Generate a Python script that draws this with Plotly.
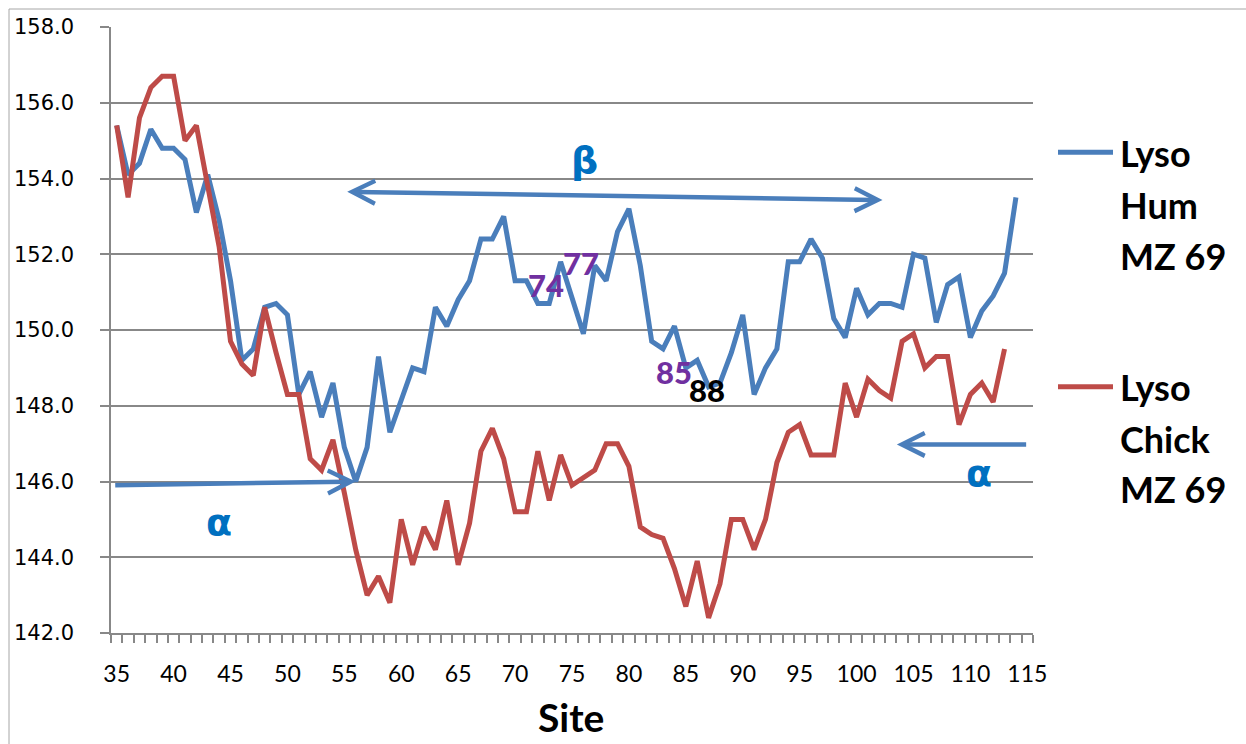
import plotly.graph_objects as go

# ---------------- data ----------------
sites_hum = list(range(35, 115))
lyso_hum = [155.4, 154.1, 154.4, 155.3, 154.8, 154.8, 154.5, 153.1, 154.1, 152.9,
            151.3, 149.2, 149.5, 150.6, 150.7, 150.4, 148.3, 148.9, 147.7, 148.6,
            146.9, 146.0, 146.9, 149.3, 147.3, 148.2, 149.0, 148.9, 150.6, 150.1,
            150.8, 151.3, 152.4, 152.4, 153.0, 151.3, 151.3, 150.7, 150.7, 151.8,
            150.9, 149.9, 151.7, 151.3, 152.6, 153.2, 151.7, 149.7, 149.5, 150.1,
            149.0, 149.2, 148.5, 148.6, 149.4, 150.4, 148.3, 149.0, 149.5, 151.8,
            151.8, 152.4, 151.9, 150.3, 149.8, 151.1, 150.4, 150.7, 150.7, 150.6,
            152.0, 151.9, 150.2, 151.2, 151.4, 149.8, 150.5, 150.9, 151.5, 153.5]

sites_chick = list(range(35, 114))
lyso_chick = [155.4, 153.5, 155.6, 156.4, 156.7, 156.7, 155.0, 155.4, 153.8, 152.2,
              149.7, 149.1, 148.8, 150.6, 149.4, 148.3, 148.3, 146.6, 146.3, 147.1,
              145.7, 144.2, 143.0, 143.5, 142.8, 145.0, 143.8, 144.8, 144.2, 145.5,
              143.8, 144.9, 146.8, 147.4, 146.6, 145.2, 145.2, 146.8, 145.5, 146.7,
              145.9, 146.1, 146.3, 147.0, 147.0, 146.4, 144.8, 144.6, 144.5, 143.7,
              142.7, 143.9, 142.4, 143.3, 145.0, 145.0, 144.2, 145.0, 146.5, 147.3,
              147.5, 146.7, 146.7, 146.7, 148.6, 147.7, 148.7, 148.4, 148.2, 149.7,
              149.9, 149.0, 149.3, 149.3, 147.5, 148.3, 148.6, 148.1, 149.5]

x_tick_labels = [35, 40, 45, 50, 55, 60, 65, 70, 75, 80, 85, 90, 95, 100, 105, 110, 115]
y_ticks = [142, 144, 146, 148, 150, 152, 154, 156, 158]

name_hum = ["Lyso", "Hum", "MZ 69"]
name_chick = ["Lyso", "Chick", "MZ 69"]

# site labels placed on the chart: (text, site, value, colour key)
site_labels = [("74", 72.7, 151.19, "purple"), ("77", 75.77, 151.77, "purple"),
               ("85", 83.95, 148.88, "purple"), ("88", 86.85, 148.42, "black")]

# ---------------- styling ----------------
BLUE = "#4A7EBB"
RED = "#BE4B48"
GREEK = "#0070C0"
PURPLE = "#7030A0"
GRID = "#888888"
FONT = "Lato, 'DejaVu Sans', sans-serif"

fig = go.Figure()
fig.add_trace(go.Scatter(x=sites_hum, y=lyso_hum, mode="lines",
                         line=dict(color=BLUE, width=5), showlegend=False))
fig.add_trace(go.Scatter(x=sites_chick, y=lyso_chick, mode="lines",
                         line=dict(color=RED, width=5), showlegend=False))

L, R, T, B = 111, 213, 27, 111
W, H = 1246, 744
PW, PH = W - L - R, H - T - B


def px(xp):
    return (xp - L) / PW


def py(yp):
    return (H - B - yp) / PH


minor_vals = [v - 0.5 for v in range(35, 117)]

fig.update_layout(
    width=W, height=H,
    margin=dict(l=L, r=R, t=T, b=B, autoexpand=False),
    paper_bgcolor="white", plot_bgcolor="white",
    xaxis=dict(range=[34.5, 115.5], tickmode="array", tickvals=x_tick_labels,
               ticktext=[str(v) for v in x_tick_labels], ticks="",
               showgrid=False, zeroline=False, showline=True,
               linecolor=GRID, linewidth=1.5,
               tickfont=dict(family=FONT, size=23, color="black"),
               ticklabelstandoff=20,
               minor=dict(tickmode="array", tickvals=minor_vals, ticks="outside",
                          ticklen=8, tickwidth=1.5, tickcolor=GRID, showgrid=False)),
    yaxis=dict(range=[142, 158], tickmode="array", tickvals=y_ticks,
               tickformat=".1f", ticks="outside", ticklen=9, tickwidth=1.5,
               tickcolor=GRID, showgrid=True, gridcolor=GRID, gridwidth=1.5,
               zeroline=False, showline=True, linecolor=GRID, linewidth=1.5,
               tickfont=dict(family="'DejaVu Sans', sans-serif", size=21, color="black"),
               ticklabelstandoff=22),
)

shapes = []
# outer chart border
shapes.append(dict(type="rect", xref="paper", yref="paper",
                   x0=px(9), x1=1.3, y0=-0.3, y1=py(9),
                   line=dict(color="#A6A6A6", width=1), fillcolor="rgba(0,0,0,0)",
                   layer="below"))
# legend lines
shapes.append(dict(type="line", xref="paper", yref="paper",
                   x0=px(1058), x1=px(1113), y0=py(152.3), y1=py(152.3),
                   line=dict(color=BLUE, width=5)))
shapes.append(dict(type="line", xref="paper", yref="paper",
                   x0=px(1058), x1=px(1113), y0=py(386.7), y1=py(386.7),
                   line=dict(color=RED, width=5)))
fig.update_layout(shapes=shapes)

ann = []
# legend text
for txt, yp in zip(name_hum, [152.9, 204.9, 255.5]):
    ann.append(dict(text=txt, xref="paper", yref="paper", x=px(1118), y=py(yp),
                    xanchor="left", yanchor="middle", showarrow=False,
                    font=dict(family=FONT, size=36, color="black", weight="bold")))
for txt, yp in zip(name_chick, [387.2, 438.9, 488.9]):
    ann.append(dict(text=txt, xref="paper", yref="paper", x=px(1118), y=py(yp),
                    xanchor="left", yanchor="middle", showarrow=False,
                    font=dict(family=FONT, size=36, color="black", weight="bold")))
# x axis title
ann.append(dict(text="Site", xref="paper", yref="paper", x=px(571), y=py(717),
                xanchor="center", yanchor="middle", showarrow=False,
                font=dict(family=FONT, size=39, color="black", weight="bold")))

# arrows
arrow_common = dict(text="", showarrow=True, axref="x", ayref="y",
                    arrowhead=5, arrowsize=1, arrowwidth=4.5, arrowcolor=BLUE)
ann.append(dict(x=102.28, y=153.43, ax=55.12, ay=153.65,
                arrowside="end+start", startarrowhead=5, startarrowsize=1,
                **arrow_common))
ann.append(dict(x=56.0, y=146.0, ax=34.74, ay=145.9, **arrow_common))
ann.append(dict(x=103.54, y=146.98, ax=115.03, ay=146.98, **arrow_common))

# greek labels
for txt, sx, vy in [("β", 76.06, 154.49), ("α", 43.96, 144.93), ("α", 110.75, 146.22)]:
    ann.append(dict(text=txt, x=sx, y=vy, xref="x", yref="y", showarrow=False,
                    xanchor="center", yanchor="middle",
                    font=dict(family="'DejaVu Sans', sans-serif", size=38,
                              color=GREEK, weight="bold")))

# site number labels
for txt, sx, vy, c in site_labels:
    ann.append(dict(text=txt, x=sx, y=vy, xref="x", yref="y", showarrow=False,
                    xanchor="center", yanchor="middle", borderpad=0,
                    font=dict(family=FONT, size=31, weight=900,
                              color=PURPLE if c == "purple" else "black")))

fig.update_layout(annotations=ann)
fig.write_html("out.html")
